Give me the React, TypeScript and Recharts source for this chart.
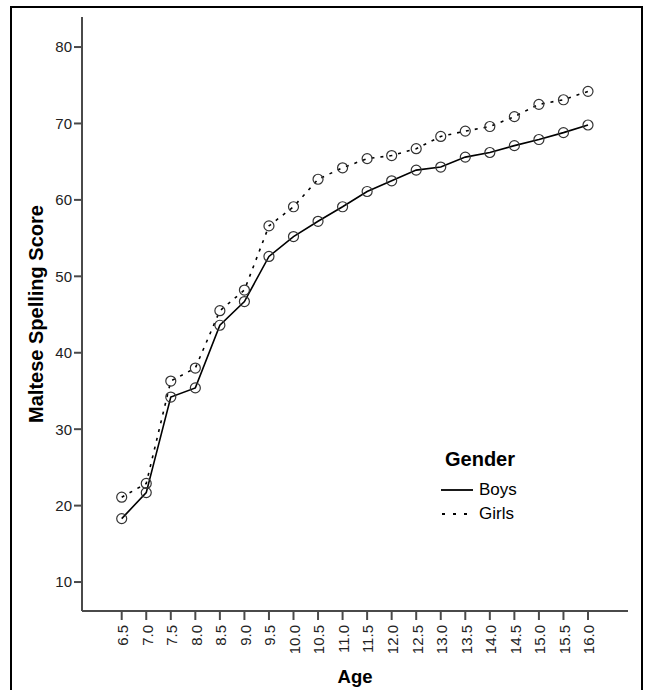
import React from 'react';
import { LineChart, Line, XAxis, YAxis, Legend } from 'recharts';

const ages = [6.5, 7.0, 7.5, 8.0, 8.5, 9.0, 9.5, 10.0, 10.5, 11.0, 11.5, 12.0, 12.5, 13.0, 13.5, 14.0, 14.5, 15.0, 15.5, 16.0];
const boys = [18.3, 21.7, 34.2, 35.4, 43.6, 46.7, 52.6, 55.2, 57.2, 59.1, 61.1, 62.5, 63.9, 64.3, 65.6, 66.2, 67.1, 67.9, 68.8, 69.8];
const girls = [21.1, 22.9, 36.3, 38.0, 45.5, 48.2, 56.6, 59.1, 62.7, 64.2, 65.4, 65.8, 66.7, 68.3, 69.0, 69.6, 70.9, 72.5, 73.1, 74.2];
const yTicks = [10, 20, 30, 40, 50, 60, 70, 80];

const data = ages.map((a, i) => ({ age: a, Boys: boys[i], Girls: girls[i] }));

const FONT = '"Liberation Sans", Arial, sans-serif';
const AXIS = '#4a4a4a';

const XTick = (props: any) => {
  const { x, y, payload } = props;
  return (
    <text
      x={x}
      y={y + 3}
      transform={`rotate(-90, ${x}, ${y + 3})`}
      textAnchor="end"
      dy="0.42em"
      fontFamily={FONT}
      fontSize={15}
      fill="#222"
    >
      {Number(payload.value).toFixed(1)}
    </text>
  );
};

const YLabel = (props: any) => {
  const vb = props.viewBox || {};
  const cx = (vb.x ?? 10) + 26;
  const cy = (vb.y ?? 17) + (vb.height ?? 594) / 2;
  return (
    <text
      x={cx}
      y={cy}
      transform={`rotate(-90, ${cx}, ${cy})`}
      textAnchor="middle"
      dy="0.36em"
      fontFamily={FONT}
      fontWeight="bold"
      fontSize={20}
      fill="#000"
    >
      Maltese Spelling Score
    </text>
  );
};

const XLabel = (props: any) => {
  const vb = props.viewBox || {};
  const cx = (vb.x ?? 82) + (vb.width ?? 546) / 2;
  const by = (vb.y ?? 611) + (vb.height ?? 79) - 7;
  return (
    <text x={cx} y={by} textAnchor="middle" fontFamily={FONT} fontWeight="bold" fontSize={18.5} fill="#000">
      Age
    </text>
  );
};

const LegendContent = () => (
  <div style={{ fontFamily: FONT, color: '#000' }}>
    <div style={{ fontWeight: 'bold', fontSize: 20, marginLeft: 4, lineHeight: '22px' }}>Gender</div>
    <div style={{ display: 'flex', alignItems: 'center', marginTop: 9, height: 22 }}>
      <svg width={34} height={10}>
        <line x1={0} y1={5} x2={32} y2={5} stroke="#000" strokeWidth={1.8} />
      </svg>
      <span style={{ fontSize: 17, marginLeft: 4 }}>Boys</span>
    </div>
    <div style={{ display: 'flex', alignItems: 'center', marginTop: 2, height: 22 }}>
      <svg width={34} height={10}>
        <line x1={1} y1={5} x2={32} y2={5} stroke="#000" strokeWidth={1.8} strokeDasharray="3 8" />
      </svg>
      <span style={{ fontSize: 17, marginLeft: 4 }}>Girls</span>
    </div>
  </div>
);

const Dot = (props: any) => {
  const { cx, cy } = props;
  if (cx == null || cy == null) return null;
  return <circle cx={cx} cy={cy} r={5} fill="none" stroke="#333" strokeWidth={1.2} />;
};

export default function App() {
  return (
    <div style={{ position: 'absolute', left: 0, top: 0, width: 650, height: 690, overflow: 'hidden', background: '#fff' }}>
      <div
        style={{
          position: 'absolute',
          left: 10,
          top: 6,
          width: 633,
          height: 720,
          border: '2px solid #000',
          boxSizing: 'border-box',
        }}
      />
      <div style={{ position: 'absolute', left: 0, top: 0 }}>
        <LineChart width={650} height={690} data={data} margin={{ top: 17, right: 22, bottom: 0, left: 10 }}>
          <XAxis
            dataKey="age"
            type="number"
            domain={[5.691, 16.815]}
            ticks={ages}
            interval={0}
            allowDataOverflow
            height={79}
            tickSize={9}
            tick={<XTick />}
            stroke={AXIS}
            tickLine={{ stroke: AXIS, strokeWidth: 2 }}
            axisLine={{ stroke: AXIS, strokeWidth: 2 }}
            label={<XLabel />}
          />
          <XAxis xAxisId="top" orientation="top" dataKey="age" type="number" domain={[5.691, 16.815]} height={0} tick={false} tickLine={false} axisLine={{ stroke: '#666', strokeWidth: 2 }} />
          <YAxis
            type="number"
            domain={[6.21, 83.93]}
            ticks={yTicks}
            allowDataOverflow
            width={72}
            tickSize={8}
            tickMargin={2}
            tick={{ fontFamily: FONT, fontSize: 15, fill: '#222' }}
            tickLine={{ stroke: AXIS, strokeWidth: 2 }}
            axisLine={{ stroke: AXIS, strokeWidth: 2 }}
            label={<YLabel />}
          />
          <YAxis yAxisId="right" orientation="right" domain={[6.21, 83.93]} width={0} tick={false} tickLine={false} axisLine={{ stroke: '#666', strokeWidth: 2 }} />
          <Legend
            layout="horizontal"
            verticalAlign="middle"
            align="center"
            content={<LegendContent />}
            wrapperStyle={{ position: 'absolute', left: 441, top: 448, width: 120 }}
          />
          <Line
            type="linear"
            dataKey="Boys"
            stroke="#000"
            strokeWidth={1.6}
            dot={<Dot />}
            activeDot={false}
            isAnimationActive={false}
          />
          <Line
            type="linear"
            dataKey="Girls"
            stroke="#000"
            strokeWidth={1.6}
            strokeDasharray="3 6"
            dot={<Dot />}
            activeDot={false}
            isAnimationActive={false}
          />
        </LineChart>
      </div>
    </div>
  );
}
